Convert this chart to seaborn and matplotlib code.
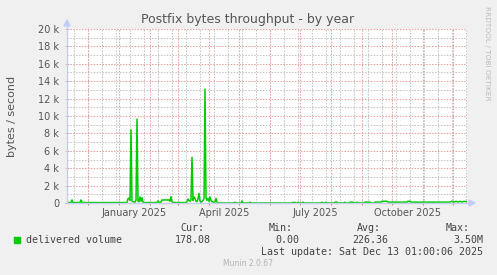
import matplotlib
matplotlib.use("Agg")
import numpy as np
import pandas as pd
import matplotlib.pyplot as plt
import matplotlib.dates as mdates
from matplotlib.patches import Rectangle, Polygon
from matplotlib.lines import Line2D
import seaborn as sns

# ---------------- data ----------------
base_date = "2025-01-01"
day_offsets = [-52, -48, -47, -46, -39, -38, -37, 8, 9, 10, 11, 12, 13, 14, 16, 17, 18, 19, 20,
               21, 22, 23, 24, 25, 38, 39, 40, 42, 43, 50, 51, 52, 53, 54, 67, 68, 69, 70, 71,
               72, 73, 74, 75, 76, 77, 78, 79, 80, 81, 82, 83, 84, 85, 86, 87, 88, 89, 90, 91,
               92, 93, 95, 96, 97, 98, 99, 115, 116, 117, 122, 123, 124, 130, 131, 132, 173,
               174, 175, 176, 177, 178, 179, 180, 183, 184, 185, 202, 203, 204, 206, 207, 208,
               215, 216, 218, 219, 225, 226, 227, 230, 231, 234, 235, 237, 238, 239, 245, 246,
               251, 252, 255, 256, 262, 263, 268, 269, 288, 289, 291, 292, 331, 333, 335, 337,
               339, 341, 343, 345, 347, 348]
bytes_per_sec = [50, 50, 350, 50, 50, 350, 50, 50, 500, 550, 300, 8400, 200, 150, 100, 300, 9650,
                 200, 150, 700, 200, 600, 100, 50, 50, 250, 50, 100, 350, 350, 200, 730, 150, 50,
                 50, 150, 460, 300, 200, 400, 5250, 300, 700, 540, 200, 150, 500, 1100, 200, 100,
                 150, 300, 500, 13100, 600, 300, 540, 200, 700, 300, 150, 100, 100, 540, 100, 0,
                 0, 100, 0, 0, 230, 0, 0, 100, 0, 0, 100, 0, 80, 0, 0, 100, 0, 0, 100, 0, 0, 100,
                 0, 0, 100, 0, 0, 100, 100, 0, 0, 100, 0, 0, 100, 100, 0, 0, 100, 0, 0, 100, 100,
                 0, 0, 100, 100, 200, 200, 100, 100, 200, 200, 100, 100, 200, 100, 200, 100, 200,
                 100, 200, 150, 178]

y_ticks = [0, 2000, 4000, 6000, 8000, 10000, 12000, 14000, 16000, 18000, 20000]
y_tick_labels = ["0", "2 k", "4 k", "6 k", "8 k", "10 k", "12 k", "14 k", "16 k", "18 k", "20 k"]
x_label_dates = ["2025-01-16", "2025-04-16", "2025-07-16", "2025-10-16"]
x_tick_labels = ["January 2025", "April 2025", "July 2025", "October 2025"]

title = "Postfix bytes throughput - by year"
y_label = "bytes / second"
series_name = "delivered volume"
stat_heads = ["Cur:", "Min:", "Avg:", "Max:"]
stat_values = ["178.08", "0.00", "226.36", "3.50M"]
last_update = "Last update: Sat Dec 13 01:00:06 2025"
footer = "Munin 2.0.67"
side_text = "RRDTOOL / TOBI OETIKER"

# ---------------- figure ----------------
sns.set_style("white")
plt.rcParams["font.family"] = ["DejaVu Sans"]

W, H = 497, 275
fig = plt.figure(figsize=(W / 100, H / 100), dpi=100, facecolor="#f0f0f0")

def fx(x):
    return x / W

def fy(y):
    return 1 - y / H

L, R, T, B = 67, 467, 29, 203
ax = fig.add_axes([fx(L), fy(B), (R - L) / W, (B - T) / H])
ax.set_facecolor("white")

base = pd.Timestamp(base_date)
df = pd.DataFrame({
    "date": base + pd.to_timedelta(day_offsets, unit="D"),
    "value": bytes_per_sec,
})

x0 = base - pd.Timedelta(days=52)
x1 = base + pd.Timedelta(days=348)
ax.set_xlim(x0, x1)
ax.set_ylim(0, 20000)

# grids
dot = (0, (1.4, 1.4))
minor_x = pd.date_range(base - pd.Timedelta(days=45), x1, freq="14D")
for d in minor_x:
    ax.axvline(d, color="#c4c4c4", lw=0.75, ls=dot, zorder=0.5)
for v in range(1000, 20001, 2000):
    ax.axhline(v, color="#c4c4c4", lw=0.75, ls=dot, zorder=0.5)
major_x = pd.date_range("2024-12-01", x1, freq="MS")
for d in major_x:
    ax.axvline(d, color="#e8a0a0", lw=0.75, ls=dot, zorder=0.6)
for v in y_ticks[1:]:
    ax.axhline(v, color="#e8a0a0", lw=0.75, ls=dot, zorder=0.6)

sns.lineplot(data=df, x="date", y="value", color="#00cc00", lw=1.1, ax=ax,
             legend=False, zorder=2)

# ticks
ax.set_xticks(major_x)
ax.set_xticklabels([])
ax.tick_params(axis="x", which="major", direction="inout", length=3, width=0.7,
               color="#e07070", bottom=True)
ax.set_yticks(y_ticks)
ax.set_yticklabels(y_tick_labels, fontsize=7, color="#555555")
ax.tick_params(axis="y", which="major", direction="inout", length=3, width=0.7,
               color="#c0c0c0", left=True, pad=4)
ax.set_xlabel("")
ax.set_ylabel("")

for d, lab in zip(x_label_dates, x_tick_labels):
    ax.text(pd.Timestamp(d), -0.028, lab, transform=ax.get_xaxis_transform(),
            ha="center", va="top", fontsize=7, color="#555555", clip_on=False)

for s in ["top", "right", "left", "bottom"]:
    ax.spines[s].set_visible(False)

# axis lines with arrows (figure coords)
axis_col = "#c8ccf4"
fig.add_artist(Line2D([fx(L), fx(L)], [fy(B), fy(24)], color=axis_col, lw=1.0, zorder=5))
fig.add_artist(Line2D([fx(L - 2), fx(471)], [fy(B), fy(B)], color=axis_col, lw=1.0, zorder=5))
fig.add_artist(Polygon([[fx(L - 3), fy(26)], [fx(L + 3), fy(26)], [fx(L), fy(20)]],
                       closed=True, color="#c4ccff", zorder=5))
fig.add_artist(Polygon([[fx(469), fy(B - 3)], [fx(469), fy(B + 3)], [fx(475), fy(B)]],
                       closed=True, color="#c4ccff", zorder=5))

# title & labels
fig.text(fx(248), fy(19), title, ha="center", va="center", fontsize=9, color="#555555")
fig.text(fx(12), fy(116), y_label, ha="center", va="center", rotation=90,
         fontsize=8, color="#555555")
fig.text(fx(487), fy(6), side_text, ha="center", va="top", rotation=270,
         fontsize=5.3, color="#bbbbbb")

# legend area
mono = ["DejaVu Sans Mono"]
fig.add_artist(Rectangle((fx(14), fy(243)), 6 / W, 6 / H, color="#00cc00",
                         transform=fig.transFigure))
fig.text(fx(26), fy(240), series_name, ha="left", va="center", fontsize=7.2,
         family=mono, color="#444444")
head_x = [204, 293, 381, 470]
val_x = [211, 299, 388, 483]
for hx, h in zip(head_x, stat_heads):
    fig.text(fx(hx), fy(228), h, ha="right", va="center", fontsize=7.2, family=mono,
             color="#444444")
for vx, v in zip(val_x, stat_values):
    fig.text(fx(vx), fy(240), v, ha="right", va="center", fontsize=7.2, family=mono,
             color="#444444")
fig.text(fx(483), fy(252), last_update, ha="right", va="center", fontsize=7.2,
         family=mono, color="#444444")
fig.text(fx(248), fy(264), footer, ha="center", va="center", fontsize=5.5,
         color="#b4b4b4")

fig.savefig("out.png", dpi=100, facecolor=fig.get_facecolor())
